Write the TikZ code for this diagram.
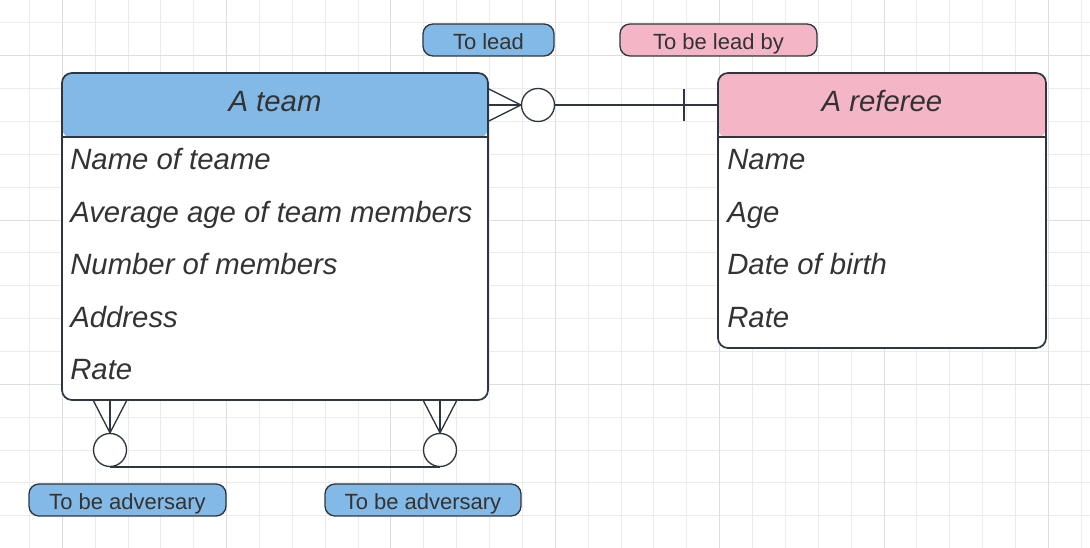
\documentclass[tikz,border=0pt]{standalone}
\usepackage{fontspec}
\setmainfont{Liberation Sans}
\usepackage{tikz}
\usetikzlibrary{positioning}

\definecolor{teamblue}{HTML}{83B9E6}
\definecolor{refpink}{HTML}{F4B5C6}
\definecolor{inkgray}{HTML}{333333}
\definecolor{edgegray}{HTML}{2E3640}
\definecolor{gridminor}{HTML}{EBEBEB}
\definecolor{gridmajor}{HTML}{DEDEDE}

\tikzset{
  entity/.style={draw=edgegray, line width=1.3pt, rounded corners=7.5pt, fill=white, inner sep=0pt},
  title/.style={text=inkgray, font=\fontsize{22}{26}\selectfont\itshape},
  attr/.style={anchor=base west, inner sep=0pt, text=inkgray, font=\fontsize{22}{26}\selectfont\itshape},
  pill/.style={draw=edgegray, line width=1pt, rounded corners=7.5pt, minimum height=24pt, text height=14.5pt, text depth=0pt, inner ysep=0pt, text=inkgray, font=\fontsize{16.5}{19}\selectfont},
  circ/.style={circle, draw=edgegray, line width=1pt, fill=white, minimum size=24.75pt, inner sep=0pt},
  link/.style={draw=edgegray, line width=1pt}
}

\begin{document}
\begin{tikzpicture}[x=0.75pt, y=-0.75pt]
\useasboundingbox (0,0) rectangle (1090,548);
\fill[white] (0,0) rectangle (1090,548);

% grid
\foreach \k in {0,...,32} {
  \draw[gridminor, line width=0.6pt] (29.3+32.87*\k, 0) -- (29.3+32.87*\k, 548);
}
\foreach \k in {0,...,15} {
  \draw[gridminor, line width=0.6pt] (0, 22.7+32.87*\k) -- (1090, 22.7+32.87*\k);
}
\foreach \k in {1,6,...,31} {
  \draw[gridmajor, line width=0.6pt] (29.3+32.87*\k, 0) -- (29.3+32.87*\k, 548);
}
\foreach \k in {1,6,11} {
  \draw[gridmajor, line width=0.6pt] (0, 22.7+32.87*\k) -- (1090, 22.7+32.87*\k);
}

% entities
\node (team) [entity, minimum width=319.5pt, minimum height=245.25pt,
  path picture={\fill[teamblue] (path picture bounding box.north west) rectangle ([yshift=-48.75pt]path picture bounding box.north east);}]
  at (275,236.5) {};
\draw[edgegray, line width=1.3pt] ([yshift=-48.75pt]team.north west) -- ([yshift=-48.75pt]team.north east);
\node (referee) [entity, minimum width=246pt, minimum height=206.25pt,
  path picture={\fill[refpink] (path picture bounding box.north west) rectangle ([yshift=-48.75pt]path picture bounding box.north east);}]
  at (882,210.5) {};
\draw[edgegray, line width=1.3pt] ([yshift=-48.75pt]referee.north west) -- ([yshift=-48.75pt]referee.north east);

\node (teamtitle) [title, anchor=base] at (275,112) {A team};
\node (teamname) [attr] at (70,170) {Name of teame};
\node (teamage) [attr] at (70,222.5) {Average age of team members};
\node (teammembers) [attr] at (70,275) {Number of members};
\node (teamaddress) [attr] at (70,327.5) {Address};
\node (teamrate) [attr] at (70,380) {Rate};

\node (reftitle) [title, anchor=base] at (882,112) {A referee};
\node (refname) [attr] at (727,170) {Name};
\node (refage) [attr] at (727,222.5) {Age};
\node (refbirth) [attr] at (727,275) {Date of birth};
\node (refrate) [attr] at (727,327.5) {Rate};

% labels
\node (lead) [pill, fill=teamblue, minimum width=98.25pt] at (488.5,40) {To lead};
\node (leadby) [pill, fill=refpink, minimum width=147.75pt] at (718.5,40) {To be lead by};
\node (adv1) [pill, fill=teamblue, minimum width=147.75pt] at (127.5,500) {To be adversary};
\node (adv2) [pill, fill=teamblue, minimum width=147pt] at (423,500) {To be adversary};

% team -- referee
\node (leadcirc) [circ] at (538,105) {};
\draw[link] ([yshift=12pt]team.east |- leadcirc) -- (leadcirc.west) -- ([yshift=-12pt]team.east |- leadcirc);
\draw[link] (team.east |- leadcirc) -- (leadcirc.west);
\draw[link] (leadcirc.east) -- (referee.west |- leadcirc);
\draw[link] ([xshift=-24.75pt, yshift=12pt]referee.west |- leadcirc) -- ([xshift=-24.75pt, yshift=-12pt]referee.west |- leadcirc);

% team -- team
\node (adv1circ) [circ] at (110,450) {};
\node (adv2circ) [circ] at (440,450) {};
\foreach \c in {adv1circ, adv2circ} {
  \draw[link] ([xshift=-12.4pt]\c |- team.south) -- (\c.north) -- ([xshift=12.4pt]\c |- team.south);
  \draw[link] (\c |- team.south) -- (\c.north);
}
\draw[link] (adv1circ.south) -- (adv2circ.south);

\end{tikzpicture}
\end{document}
